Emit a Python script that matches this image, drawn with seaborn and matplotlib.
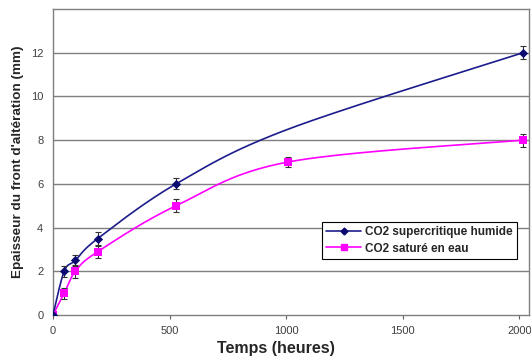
import numpy as np
import pandas as pd
import matplotlib
matplotlib.use("Agg")
import matplotlib.pyplot as plt
import seaborn as sns
from matplotlib.lines import Line2D

# ---- data ----
blue_label = "CO2 supercritique humide"
pink_label = "CO2 saturé en eau"
blue_x = [0, 48, 96, 192, 528, 1008, 2016]
blue_y = [0, 2.0, 2.5, 3.5, 6.0, 8.5, 12.0]
blue_err = [0.15, 0.25, 0.25, 0.28, 0.25, None, 0.3]   # no marker at 1008
pink_x = [0, 48, 96, 192, 528, 1008, 2016]
pink_y = [0, 1.0, 2.0, 2.9, 5.0, 7.0, 8.0]
pink_err = [0.1, 0.25, 0.3, 0.28, 0.3, 0.25, 0.3]
x_ticks = [0, 500, 1000, 1500, 2000]
y_ticks = [0, 2, 4, 6, 8, 10, 12]
xlabel = "Temps (heures)"
ylabel = "Epaisseur du front d'altération (mm)"

XMAX, YMAX = 2040, 14


def smooth(xs, ys, sx, sy, n=40):
    """Excel-style smoothed line (Bezier, tension 1/6) computed in display-scaled space."""
    P = np.column_stack([np.asarray(xs, float) * sx, np.asarray(ys, float) * sy])
    Pe = np.vstack([P[0], P, P[-1]])
    out = []
    for i in range(len(P) - 1):
        p0, p1, p2, p3 = Pe[i], Pe[i + 1], Pe[i + 2], Pe[i + 3]
        c1 = p1 + (p2 - p0) / 6
        c2 = p2 - (p3 - p1) / 6
        t = np.linspace(0, 1, n)[:, None]
        seg = (1 - t) ** 3 * p1 + 3 * (1 - t) ** 2 * t * c1 + 3 * (1 - t) * t ** 2 * c2 + t ** 3 * p2
        out.append(seg if i == 0 else seg[1:])
    out = np.vstack(out)
    return out[:, 0] / sx, out[:, 1] / sy


sns.set_theme(style="white")
plt.rcParams['font.family'] = ['Liberation Sans', 'DejaVu Sans']

fig = plt.figure(figsize=(5.31, 3.58), dpi=100)
ax = fig.add_axes([0.0998, 0.12, 0.896, 0.855])

sx, sy = 476 / XMAX, 306 / YMAX
bx, by = smooth(blue_x, blue_y, sx, sy)
px, py = smooth(pink_x, pink_y, sx, sy)
dfb = pd.DataFrame({"x": bx, "y": by})
dfp = pd.DataFrame({"x": px, "y": py})

blue = "#1c1c8c"
pink = "#ff00ff"

for yv in y_ticks[1:]:
    ax.axhline(yv, color="#7f7f7f", lw=1.0, zorder=0)

sns.lineplot(data=dfb, x="x", y="y", sort=False, color=blue, lw=1.2, ax=ax, zorder=3)
sns.lineplot(data=dfp, x="x", y="y", sort=False, color=pink, lw=1.2, ax=ax, zorder=2)

bmask = [e is not None for e in blue_err]
bxm = [x for x, m in zip(blue_x, bmask) if m]
bym = [y for y, m in zip(blue_y, bmask) if m]
bem = [e for e in blue_err if e is not None]

ax.errorbar(pink_x, pink_y, yerr=pink_err, fmt="none", ecolor="#333333", elinewidth=0.8,
            capsize=2.5, capthick=0.8, zorder=4)
ax.errorbar(bxm, bym, yerr=bem, fmt="none", ecolor="#333333", elinewidth=0.8,
            capsize=2.5, capthick=0.8, zorder=4)
sns.scatterplot(x=pink_x, y=pink_y, marker="s", s=36, color=pink, edgecolor=pink, linewidth=0, ax=ax, zorder=5)
sns.scatterplot(x=bxm, y=bym, marker="D", s=22, color="#0a0a70", edgecolor="#0a0a70", linewidth=0, ax=ax, zorder=6)

ax.set_xlim(0, XMAX)
ax.set_ylim(0, YMAX)
ax.set_xticks(x_ticks)
ax.set_yticks(y_ticks)
ax.set_xticklabels([str(t) for t in x_ticks], fontsize=8, color="#404040")
ax.set_yticklabels([str(t) for t in y_ticks], fontsize=8, color="#404040")
ax.tick_params(axis="x", bottom=True, length=3, width=0.8, color="#606060", pad=5)
ax.tick_params(axis="y", left=False, length=0, pad=7)
for s in ax.spines.values():
    s.set_color("#7f7f7f")
    s.set_linewidth(1.0)

ax.set_xlabel(xlabel, fontsize=11.5, fontweight="bold")
ax.xaxis.set_label_coords(0.468, -0.085)
ax.set_ylabel(ylabel, fontsize=9.7, fontweight="bold")
ax.yaxis.set_label_coords(-0.06, 0.5)

handles = [
    Line2D([], [], color=blue, lw=1.2, marker="D", markersize=3.5, markerfacecolor="#0a0a70", markeredgecolor="#0a0a70"),
    Line2D([], [], color=pink, lw=1.2, marker="s", markersize=5, markerfacecolor=pink, markeredgecolor=pink),
]
leg = ax.legend(handles, [blue_label, pink_label], loc="upper left",
                bbox_to_anchor=(0.566, 0.305), frameon=True, fancybox=False,
                prop={"size": 8.5, "weight": "bold"},
                framealpha=1, edgecolor="black", borderpad=0.35, handlelength=2.9,
                labelspacing=0.4, handletextpad=0.4, borderaxespad=0)
leg.get_frame().set_linewidth(0.8)

fig.savefig("out.png", dpi=100)
